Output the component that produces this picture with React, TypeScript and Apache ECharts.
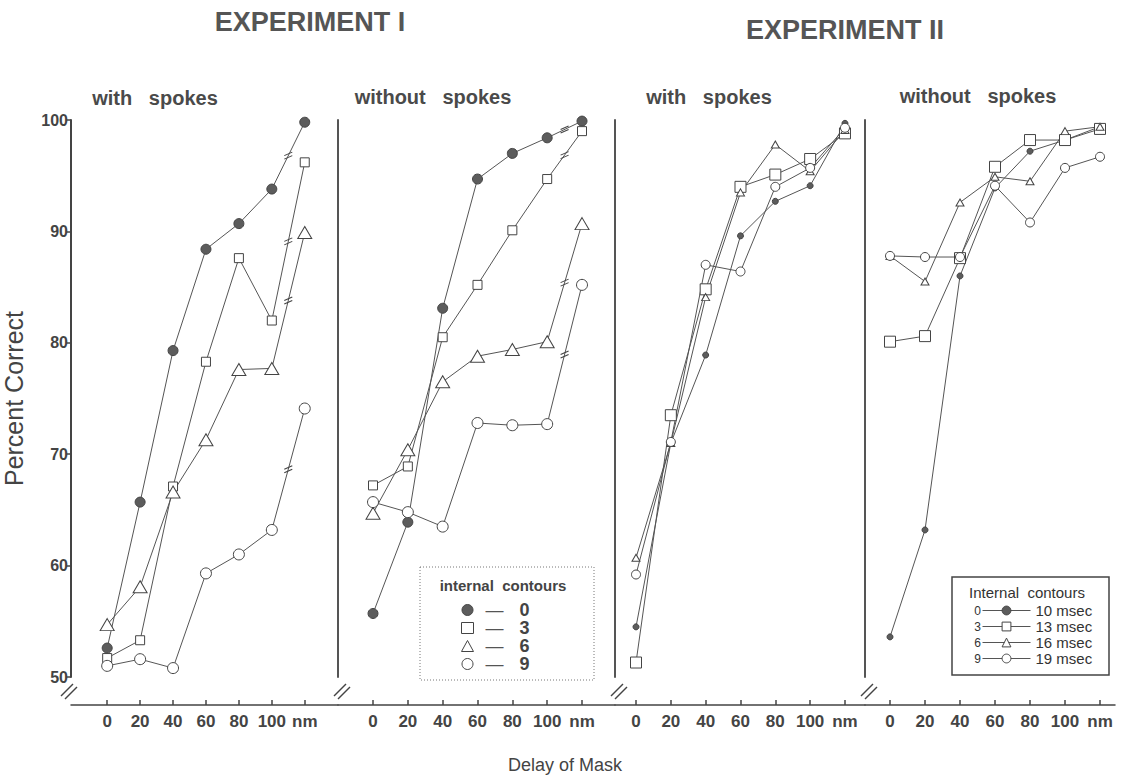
import React, { useEffect, useRef } from 'react';
import * as echarts from 'echarts';

// ---- data ----
const delays = [0, 20, 40, 60, 80, 100, 120];
const delayLabels = ['0', '20', '40', '60', '80', '100', 'nm'];

const exp1Names = ['0', '3', '6', '9'];
const exp2Names = ['10 msec', '13 msec', '16 msec', '19 msec'];
const exp2Prefix = ['0', '3', '6', '9'];

// Experiment I, with spokes (internal contours 0,3,6,9)
const e1With0 = [52.6, 65.7, 79.3, 88.4, 90.7, 93.8, 99.8];
const e1With3 = [51.7, 53.3, 67.1, 78.3, 87.6, 82.0, 96.2];
const e1With6 = [54.7, 58.1, 66.6, 71.3, 77.6, 77.7, 89.9];
const e1With9 = [51.0, 51.6, 50.8, 59.3, 61.0, 63.2, 74.1];

// Experiment I, without spokes
const e1Without0 = [55.7, 63.9, 83.1, 94.7, 97.0, 98.4, 99.9];
const e1Without3 = [67.2, 68.9, 80.5, 85.2, 90.1, 94.7, 99.0];
const e1Without6 = [64.7, 70.4, 76.5, 78.8, 79.4, 80.1, 90.7];
const e1Without9 = [65.7, 64.8, 63.5, 72.8, 72.6, 72.7, 85.2];

// Experiment II, with spokes (10,13,16,19 msec)
const e2With10 = [54.5, 71.0, 78.9, 89.6, 92.7, 94.1, 99.7];
const e2With13 = [51.3, 73.5, 84.8, 94.0, 95.1, 96.5, 98.8];
const e2With16 = [60.7, 71.0, 84.1, 93.5, 97.8, 95.4, 99.1];
const e2With19 = [59.2, 71.1, 87.0, 86.4, 94.0, 95.7, 99.3];

// Experiment II, without spokes
const e2Without10 = [53.6, 63.2, 86.0, 93.9, 97.2, 98.2, 99.4];
const e2Without13 = [80.1, 80.6, 87.6, 95.8, 98.2, 98.2, 99.2];
const e2Without16 = [87.8, 85.5, 92.6, 94.9, 94.5, 99.0, 99.4];
const e2Without19 = [87.8, 87.7, 87.7, 94.1, 90.8, 95.7, 96.7];

// ---- layout / style ----
const FONT = '"Liberation Sans", Arial, Helvetica, sans-serif';
const INK = '#444';
const LINE = '#555';
const gridLeft = [65, 338, 615, 865];
const gridWidth = [273, 277, 250, 250];
const xRange: [number, number][] = [
  [-21.98, 140.2],
  [-20.1, 138.94],
  [-12.06, 131.5],
  [-14.29, 128.57],
];

type Sty = { symbol: string; size: number | number[]; filled: boolean };
const exp1Styles: Sty[] = [
  { symbol: 'circle', size: 10, filled: true },
  { symbol: 'rect', size: 9, filled: false },
  { symbol: 'triangle', size: [14, 12], filled: false },
  { symbol: 'circle', size: 11, filled: false },
];
const exp2Styles: Sty[] = [
  { symbol: 'circle', size: 6, filled: true },
  { symbol: 'rect', size: 11, filled: false },
  { symbol: 'triangle', size: [8, 7], filled: false },
  { symbol: 'circle', size: 9, filled: false },
];

function makeSeries(name: string, vals: number[], grid: number, sty: Sty, withBreak: boolean) {
  const s: any = {
    type: 'line',
    name,
    xAxisIndex: grid,
    yAxisIndex: grid,
    data: delays.map((d, i) => [d, vals[i]]),
    symbol: sty.symbol,
    symbolSize: sty.size,
    showSymbol: true,
    lineStyle: { color: LINE, width: 1 },
    itemStyle: { color: sty.filled ? '#5c5c5c' : '#fff', borderColor: INK, borderWidth: 1 },
    emphasis: { disabled: true },
    silent: true,
  };
  if (withBreak) {
    s.markPoint = {
      symbol: 'path://M0,5 L12,0 M0,10 L12,5',
      symbolSize: [8, 7],
      silent: true,
      label: { show: false },
      itemStyle: { color: 'transparent', borderColor: INK, borderWidth: 1 },
      data: [{ coord: [(delays[5] + delays[6]) / 2, (vals[5] + vals[6]) / 2] }],
    };
  }
  return s;
}

const series = [
  ...[e1With0, e1With3, e1With6, e1With9].map((v, i) => makeSeries(exp1Names[i], v, 0, exp1Styles[i], true)),
  ...[e1Without0, e1Without3, e1Without6, e1Without9].map((v, i) => makeSeries(exp1Names[i], v, 1, exp1Styles[i], true)),
  ...[e2With10, e2With13, e2With16, e2With19].map((v, i) => makeSeries(exp2Names[i], v, 2, exp2Styles[i], false)),
  ...[e2Without10, e2Without13, e2Without16, e2Without19].map((v, i) => makeSeries(exp2Names[i], v, 3, exp2Styles[i], false)),
];

const grids = gridLeft.map((l, i) => ({ left: l, width: gridWidth[i], top: 120, bottom: 101 }));

const xAxes = gridLeft.map((_, i) => ({
  type: 'value',
  gridIndex: i,
  min: xRange[i][0],
  max: xRange[i][1],
  offset: 28,
  axisLine: { show: true, onZero: false, lineStyle: { color: INK, width: 1.5 } },
  axisTick: { show: true, inside: true, length: 5, customValues: delays, lineStyle: { color: INK, width: 1.5 } },
  axisLabel: {
    show: true,
    customValues: delays,
    formatter: (v: number) => {
      const k = delays.indexOf(v);
      return k >= 0 ? delayLabels[k] : '';
    },
    fontSize: 17,
    fontWeight: 'bold',
    color: INK,
    fontFamily: FONT,
    margin: 8,
  },
  splitLine: { show: false },
}));

const yAxes = gridLeft.map((_, i) =>
  i === 0
    ? {
        type: 'value',
        gridIndex: 0,
        min: 50,
        max: 100,
        interval: 10,
        name: 'Percent Correct',
        nameLocation: 'middle',
        nameGap: 45,
        nameRotate: 90,
        nameTextStyle: { fontSize: 25, color: INK, fontFamily: FONT },
        axisLine: { show: true, onZero: false, lineStyle: { color: INK, width: 2 } },
        axisTick: { show: true, length: 5, lineStyle: { color: INK, width: 1.5 } },
        axisLabel: { fontSize: 16, fontWeight: 'bold', color: INK, fontFamily: FONT, margin: 3 },
        splitLine: { show: false },
      }
    : {
        type: 'value',
        gridIndex: i,
        min: 50,
        max: 100,
        interval: 10,
        axisLine: { show: true, onZero: false, lineStyle: { color: LINE, width: 2 } },
        axisTick: { show: false },
        axisLabel: { show: false },
        splitLine: { show: false },
      }
);

function txt(text: string, x: number, y: number, font: string, fill = INK, align = 'center') {
  return { type: 'text', x, y, silent: true, style: { text, font, fill, align, verticalAlign: 'middle' } };
}

function slashes(x: number) {
  return [
    { type: 'line', silent: true, shape: { x1: x - 4, y1: 696, x2: x + 8, y2: 684 }, style: { stroke: INK, lineWidth: 1.5 } },
    { type: 'line', silent: true, shape: { x1: x, y1: 699, x2: x + 12, y2: 687 }, style: { stroke: INK, lineWidth: 1.5 } },
  ];
}

const graphic: any[] = [
  txt('EXPERIMENT I', 310, 22, `bold 27px ${FONT}`, '#555'),
  txt('EXPERIMENT II', 845, 30, `bold 27px ${FONT}`, '#555'),
  txt('with   spokes', 155, 98, `bold 20px ${FONT}`, '#4a4a4a'),
  txt('without   spokes', 433, 97, `bold 20px ${FONT}`, '#4a4a4a'),
  txt('with   spokes', 709, 97, `bold 20px ${FONT}`, '#4a4a4a'),
  txt('without   spokes', 978, 96, `bold 20px ${FONT}`, '#4a4a4a'),
  txt('Delay of Mask', 565, 765, `18px ${FONT}`, INK),
  {
    type: 'rect', silent: true,
    shape: { x: 420, y: 567, width: 174, height: 113 },
    style: { fill: 'none', stroke: '#777', lineWidth: 1, lineDash: [1, 2] },
  },
  txt('internal  contours', 503, 585, `bold 15px ${FONT}`, INK),
  {
    type: 'rect', silent: true,
    shape: { x: 952, y: 577, width: 157, height: 98 },
    style: { fill: 'none', stroke: INK, lineWidth: 1.5 },
  },
  txt('Internal  contours', 1027, 592, `15px ${FONT}`, '#333'),
  ...exp2Prefix.map((p, i) => txt(p, 981, 611 + i * 16, `12px ${FONT}`, '#333', 'right')),
  ...gridLeft.flatMap((x) => slashes(x)),
];

const option: any = {
  animation: false,
  backgroundColor: '#fff',
  textStyle: { fontFamily: FONT },
  grid: grids,
  xAxis: xAxes,
  yAxis: yAxes,
  legend: [
    {
      data: exp1Names.map((n, i) => ({ name: n, icon: exp1Styles[i].symbol })),
      orient: 'vertical',
      left: 461,
      top: 601,
      padding: 0,
      itemWidth: 12,
      itemHeight: 11,
      itemGap: 0,
      selectedMode: false,
      itemStyle: { borderWidth: 1 },
      formatter: (n: string) => `{d|—}{n|${n}}`,
      textStyle: {
        rich: {
          d: { fontSize: 18, color: LINE, padding: [0, 16, 0, 7], fontFamily: FONT },
          n: { fontSize: 18, fontWeight: 'bold', color: INK, fontFamily: FONT },
        },
      },
    },
    {
      data: exp2Names,
      orient: 'vertical',
      left: 982,
      top: 603,
      padding: 0,
      itemWidth: 48,
      itemHeight: 11,
      itemGap: 1,
      selectedMode: false,
      lineStyle: { width: 1 },
      itemStyle: { borderWidth: 1 },
      textStyle: { fontSize: 15, color: '#333', fontFamily: FONT },
    },
  ],
  series,
  graphic,
};

export default function App() {
  const ref = useRef<HTMLDivElement>(null);
  useEffect(() => {
    const chart = echarts.init(ref.current!, null, { renderer: 'svg' });
    chart.setOption(option);
    return () => chart.dispose();
  }, []);
  return (
    <div
      ref={ref}
      style={{ position: 'fixed', left: 0, top: 0, width: 1129, height: 778, background: '#fff' }}
    />
  );
}
